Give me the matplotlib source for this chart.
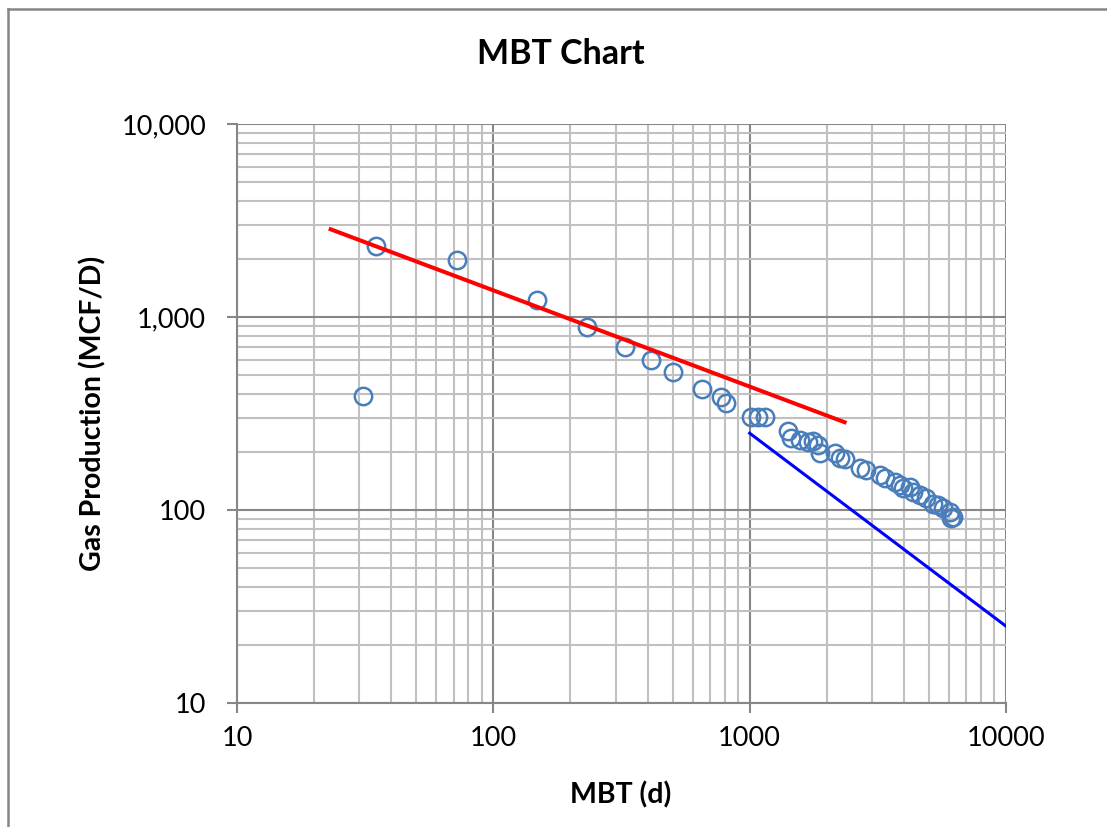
import matplotlib
matplotlib.use("Agg")
import matplotlib.pyplot as plt
from matplotlib.lines import Line2D
from matplotlib.ticker import FixedLocator, FuncFormatter, NullFormatter, LogLocator
import numpy as np

plt.rcParams['font.family'] = ['Lato', 'DejaVu Sans']

# Material balance time (days) and gas rate (MCF/D)
mbt_days = [31.1, 35.0, 72.2, 147.4, 233, 326, 414, 504, 652, 776, 806,
            1015, 1078, 1144, 1410, 1454, 1566, 1688, 1766, 1847, 1875,
            2145, 2243, 2346, 2685, 2851, 3212, 3360, 3676, 3844, 3960,
            4206, 4333, 4600, 4886, 5184, 5422, 5670, 6020, 6203, 6115]
gas_rate = [391, 2341, 1967, 1225, 884, 702, 597, 521, 425, 386, 357,
            302, 302, 302, 258, 235, 231, 226, 229, 217, 197,
            197, 187, 183, 166, 161, 152, 146, 140, 135, 130,
            132, 124, 120, 115, 108, 106, 102, 98, 92.3, 90.6]

# Half-slope (linear flow) trend line
red_t = [23.2, 2346]
red_q = [2847, 285]
# Unit-slope (boundary dominated) trend line
blue_t = [1000, 10000]
blue_q = [250, 25]

x_ticks = [10, 100, 1000, 10000]
y_ticks = [10, 100, 1000, 10000]
y_tick_labels = ['10', '100', '1,000', '10,000']

W, H = 1107, 827
fig = plt.figure(figsize=(W / 100, H / 100), dpi=100)
ax = fig.add_axes([237 / W, 1 - 703 / H, (1006 - 237) / W, (703 - 124) / H])

ax.set_xscale('log')
ax.set_yscale('log')
ax.set_xlim(10, 10000)
ax.set_ylim(10, 10000)

ax.xaxis.set_major_locator(FixedLocator(x_ticks))
ax.yaxis.set_major_locator(FixedLocator(y_ticks))
ax.xaxis.set_minor_locator(LogLocator(base=10, subs=np.arange(2, 10), numticks=20))
ax.yaxis.set_minor_locator(LogLocator(base=10, subs=np.arange(2, 10), numticks=20))
ax.xaxis.set_major_formatter(FuncFormatter(lambda v, p: f"{int(round(v))}"))
ax.yaxis.set_major_formatter(FuncFormatter(
    lambda v, p: y_tick_labels[y_ticks.index(int(round(v)))] if int(round(v)) in y_ticks else ''))
ax.xaxis.set_minor_formatter(NullFormatter())
ax.yaxis.set_minor_formatter(NullFormatter())

ax.grid(which='major', color='#878787', linewidth=1.5)
ax.grid(which='minor', color='#c0c0c0', linewidth=1.5)
ax.set_axisbelow(True)

for s in ax.spines.values():
    s.set_visible(False)
for side in ('left', 'bottom'):
    ax.spines[side].set_visible(True)
    ax.spines[side].set_color('#878787')
    ax.spines[side].set_linewidth(1.5)

ax.tick_params(which='major', direction='out', length=7.2, width=1.5, color='#878787',
               labelsize=19.5, labelcolor='black')
ax.tick_params(axis='x', which='major', pad=9)
ax.tick_params(axis='y', which='major', pad=15)
ax.tick_params(which='minor', length=0)

ax.plot(mbt_days, gas_rate, linestyle='none', marker='o', markersize=12.5,
        markerfacecolor='none', markeredgecolor='#4a7ebb', markeredgewidth=1.8,
        zorder=3)
ax.plot(red_t, red_q, color='#ff0000', linewidth=2.9, zorder=4)
ax.plot(blue_t, blue_q, color='#0000ff', linewidth=2.2, zorder=4)

fig.text(621 / W, 1 - 795 / H, 'MBT (d)', ha='center', va='center',
         fontsize=20.5, fontweight='bold')
fig.text(93 / W, 1 - 413 / H, 'Gas Production (MCF/D)', ha='center', va='center',
         rotation=90, fontsize=20.5, fontweight='bold')
fig.text(561 / W, 1 - 54 / H, 'MBT Chart', ha='center', va='center',
         fontsize=24.5, fontweight='bold')

# Outer chart border
fig.add_artist(Line2D([7.5 / W, 7.5 / W], [0, 1 - 8.5 / H],
                      transform=fig.transFigure, color='#868686', linewidth=1.8))
fig.add_artist(Line2D([7.5 / W, 1], [1 - 8.5 / H, 1 - 8.5 / H],
                      transform=fig.transFigure, color='#868686', linewidth=1.8))

fig.savefig('out.png', dpi=100)
